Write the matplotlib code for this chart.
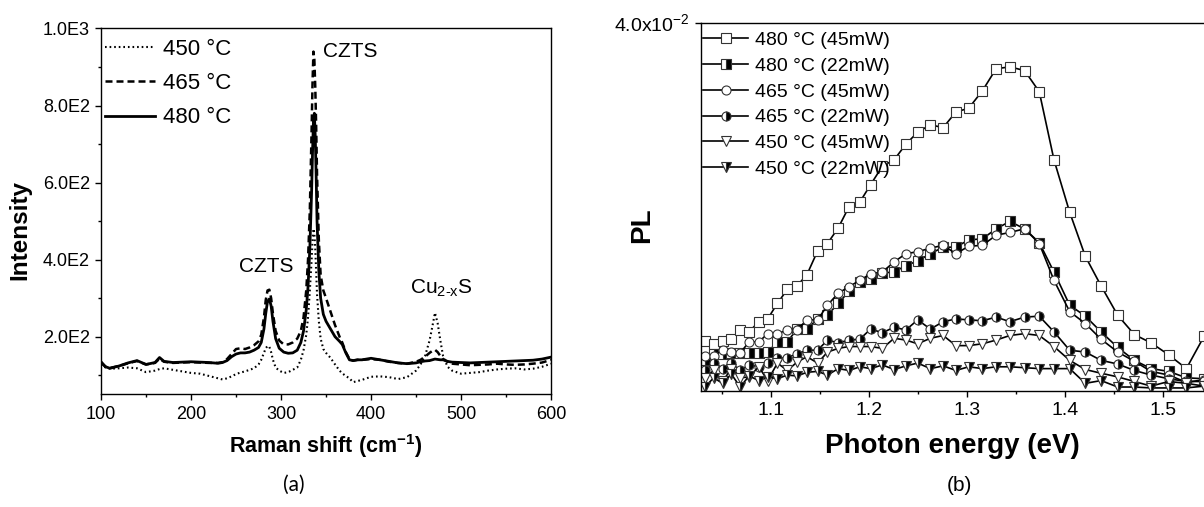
import numpy as np
import matplotlib
matplotlib.use("Agg")
import matplotlib.pyplot as plt
from matplotlib.ticker import MultipleLocator

plt.rcParams['font.family'] = ['Liberation Sans', 'DejaVu Sans']
plt.rcParams['mathtext.fontset'] = 'custom'
plt.rcParams['mathtext.rm'] = 'Liberation Sans'
plt.rcParams['mathtext.bf'] = 'Liberation Sans:bold'

# ---- (a) Raman spectra ----
raman_shift = [100, 105, 110, 120, 130, 140, 150, 160, 165, 170, 180, 190, 200, 210, 220, 230, 235, 240,
               245, 250, 255, 260, 265, 270, 275, 278, 281, 283, 285, 287, 289, 291, 294, 298, 303, 308,
               313, 318, 322, 325, 328, 330, 332, 334, 335, 336, 337, 338, 339, 340, 342, 344, 347, 350,
               355, 360, 365, 368, 372, 376, 380, 385, 390, 400, 410, 420, 430, 440, 450, 455, 460, 465,
               468, 471, 474, 477, 480, 485, 490, 500, 510, 520, 530, 540, 550, 560, 570, 580, 590, 600]
raman_450 = [130, 120, 117, 118, 120, 118, 108, 112, 116, 118, 114, 110, 106, 104, 98, 92, 89, 92,
             97, 103, 107, 110, 114, 118, 128, 140, 158, 170, 176, 174, 160, 140, 120, 112, 106, 108,
             114, 120, 140, 165, 205, 250, 320, 400, 450, 480, 470, 430, 370, 310, 240, 195, 168, 158,
             145, 128, 112, 105, 98, 92, 82, 85, 88, 96, 97, 95, 90, 95, 112, 128, 150, 190,
             225, 262, 235, 190, 150, 122, 112, 104, 106, 108, 112, 115, 117, 118, 115, 117, 122, 130]
raman_465 = [132, 122, 119, 124, 131, 137, 128, 132, 143, 135, 132, 133, 134, 133, 132, 132, 134, 142,
             155, 168, 170, 168, 172, 178, 188, 205, 250, 295, 320, 322, 300, 260, 215, 190, 180, 180,
             185, 195, 215, 250, 320, 400, 530, 740, 860, 940, 920, 850, 750, 620, 450, 360, 320, 300,
             265, 230, 200, 185, 160, 142, 138, 140, 140, 142, 140, 135, 132, 130, 135, 140, 148, 158,
             163, 166, 160, 150, 142, 135, 130, 128, 126, 127, 128, 130, 128, 127, 128, 130, 133, 140]
raman_480 = [135, 122, 118, 124, 132, 138, 128, 133, 146, 136, 133, 134, 135, 134, 133, 131, 133, 138,
             148, 155, 158, 158, 160, 165, 172, 185, 220, 260, 292, 298, 280, 240, 195, 170, 160, 157,
             158, 165, 185, 215, 270, 330, 430, 580, 680, 760, 780, 720, 620, 500, 370, 300, 258, 240,
             220, 200, 188, 180, 158, 140, 138, 140, 140, 144, 140, 136, 132, 130, 132, 135, 137, 138,
             140, 142, 141, 140, 140, 136, 134, 133, 132, 133, 134, 135, 136, 137, 138, 139, 142, 147]
raman_labels = ['450 \u00b0C', '465 \u00b0C', '480 \u00b0C']

# ---- (b) PL spectra (values in units of 1e-2) ----
photon_energy = [1.033, 1.042, 1.051, 1.060, 1.069, 1.078, 1.088, 1.097, 1.107, 1.117, 1.127, 1.137,
                 1.148, 1.158, 1.169, 1.180, 1.191, 1.202, 1.214, 1.226, 1.238, 1.250, 1.263, 1.276,
                 1.289, 1.302, 1.316, 1.330, 1.344, 1.359, 1.374, 1.389, 1.405, 1.421, 1.437, 1.454,
                 1.471, 1.488, 1.506, 1.524, 1.542]
pl_480_45 = [0.54, 0.51, 0.54, 0.56, 0.66, 0.64, 0.75, 0.78, 0.95, 1.10, 1.14, 1.26, 1.52, 1.60, 1.77,
             2.00, 2.05, 2.24, 2.44, 2.51, 2.68, 2.81, 2.89, 2.86, 3.03, 3.07, 3.26, 3.50, 3.52, 3.48,
             3.25, 2.51, 1.94, 1.46, 1.14, 0.82, 0.61, 0.52, 0.39, 0.24, 0.59]
pl_480_22 = [0.33, 0.40, 0.40, 0.41, 0.41, 0.41, 0.41, 0.42, 0.53, 0.53, 0.67, 0.67, 0.78, 0.82, 0.95,
             1.08, 1.18, 1.21, 1.28, 1.29, 1.36, 1.41, 1.49, 1.56, 1.56, 1.64, 1.65, 1.76, 1.84, 1.76,
             1.61, 1.29, 0.93, 0.81, 0.64, 0.47, 0.33, 0.24, 0.21, 0.14, 0.13]
pl_465_45 = [0.38, 0.38, 0.44, 0.42, 0.41, 0.53, 0.53, 0.62, 0.62, 0.66, 0.66, 0.77, 0.77, 0.93, 1.06,
             1.13, 1.20, 1.27, 1.29, 1.40, 1.49, 1.51, 1.55, 1.58, 1.49, 1.57, 1.58, 1.69, 1.72, 1.76,
             1.60, 1.20, 0.86, 0.73, 0.56, 0.42, 0.32, 0.21, 0.17, 0.09, 0.12]
pl_465_22 = [0.22, 0.30, 0.24, 0.30, 0.22, 0.28, 0.26, 0.30, 0.35, 0.36, 0.40, 0.44, 0.44, 0.55, 0.52,
             0.55, 0.56, 0.67, 0.63, 0.69, 0.66, 0.77, 0.67, 0.75, 0.78, 0.77, 0.76, 0.80, 0.75, 0.80,
             0.81, 0.64, 0.44, 0.42, 0.33, 0.29, 0.22, 0.17, 0.13, 0.10, 0.10]
pl_450_45 = [0.14, 0.22, 0.10, 0.24, 0.14, 0.15, 0.26, 0.11, 0.30, 0.22, 0.31, 0.37, 0.30, 0.42, 0.46,
             0.48, 0.48, 0.48, 0.46, 0.57, 0.55, 0.51, 0.57, 0.60, 0.49, 0.49, 0.51, 0.55, 0.60, 0.62,
             0.60, 0.48, 0.33, 0.23, 0.19, 0.15, 0.10, 0.05, 0.10, 0.08, 0.05]
pl_450_22 = [0.04, 0.14, 0.08, 0.18, 0.04, 0.16, 0.11, 0.15, 0.13, 0.17, 0.16, 0.20, 0.21, 0.17, 0.24,
             0.22, 0.26, 0.24, 0.28, 0.23, 0.27, 0.30, 0.24, 0.27, 0.22, 0.26, 0.24, 0.26, 0.26, 0.25,
             0.24, 0.24, 0.24, 0.08, 0.11, 0.04, 0.04, 0.03, 0.03, 0.03, 0.05]
pl_labels = ['480 \u00b0C (45mW)', '480 \u00b0C (22mW)', '465 \u00b0C (45mW)',
             '465 \u00b0C (22mW)', '450 \u00b0C (45mW)', '450 \u00b0C (22mW)']

fig = plt.figure(figsize=(12.04, 5.07), dpi=100)

# ---------- panel (a) ----------
ax1 = fig.add_axes([0.0839, 0.2219, 0.3738, 0.7219])
ax1.plot(raman_shift, raman_450, color='black', lw=1.5, ls=(0, (0.8, 1.4)), label=raman_labels[0])
ax1.plot(raman_shift, raman_465, color='black', lw=1.8, ls=(0, (2.8, 1.6)), label=raman_labels[1])
ax1.plot(raman_shift, raman_480, color='black', lw=2.0, ls='-', label=raman_labels[2])
ax1.set_xlim(100, 600)
ax1.set_ylim(50, 1000)
ax1.xaxis.set_major_locator(MultipleLocator(100))
ax1.xaxis.set_minor_locator(MultipleLocator(50))
ax1.set_yticks([200, 400, 600, 800, 1000])
ax1.set_yticklabels(['2.0E2', '4.0E2', '6.0E2', '8.0E2', '1.0E3'])
ax1.yaxis.set_minor_locator(MultipleLocator(100))
ax1.tick_params(which='both', direction='out', width=1, labelsize=13, top=False, right=False)
ax1.tick_params(which='major', length=4.5)
ax1.tick_params(which='minor', length=2.5)
for s in ax1.spines.values():
    s.set_linewidth(1.0)
ax1.set_xlabel('Raman shift (cm$^{\\mathbf{-1}}$)', fontsize=15.5, fontweight='bold', labelpad=7)
ax1.set_ylabel('Intensity', fontsize=17.5, fontweight='bold')
ax1.yaxis.set_label_coords(-0.155, 0.45)
ax1.text(284, 382, 'CZTS', fontsize=15, ha='center', va='center')
ax1.text(377, 940, 'CZTS', fontsize=15, ha='center', va='center')
ax1.text(478, 325, 'Cu$_{\\text{2-x}}$S', fontsize=15, ha='center', va='center')
ax1.legend(loc='upper left', bbox_to_anchor=(0.009, 0.972), frameon=False, fontsize=16,
           handlelength=2.25, handletextpad=0.36, labelspacing=0.6, borderaxespad=0, borderpad=0)

# ---------- panel (b) ----------
ax2 = fig.add_axes([0.5822, 0.2294, 0.4178, 0.7258])
pl_series = [pl_480_45, pl_480_22, pl_465_45, pl_465_22, pl_450_45, pl_450_22]
markers = ['s', 's', 'o', 'o', 'v', 'v']
fills = ['full', 'right', 'full', 'right', 'full', 'right']
faces = ['white', 'black', 'white', 'black', 'white', 'black']
for vals, lab, m, fs, fc in zip(pl_series, pl_labels, markers, fills, faces):
    ax2.plot(photon_energy, np.array(vals) * 1e-2, color='black', lw=1.2, marker=m, ms=6.5,
             fillstyle=fs, markerfacecolor=fc, markerfacecoloralt='white',
             markeredgecolor='#333333', markeredgewidth=0.8, label=lab)
ax2.set_xlim(1.029, 1.542)
ax2.set_ylim(0, 0.04)
ax2.set_xticks([1.1, 1.2, 1.3, 1.4, 1.5])
ax2.xaxis.set_minor_locator(MultipleLocator(0.05))
ax2.set_yticks([0.04])
ax2.set_yticklabels(['4.0x10$^{\\mathregular{-2}}$'])
ax2.spines['right'].set_visible(False)
for s in ax2.spines.values():
    s.set_linewidth(1.0)
ax2.tick_params(which='both', direction='out', width=1, labelsize=14, top=False, right=False)
ax2.tick_params(which='major', length=4.5)
ax2.tick_params(which='minor', length=2.5)
ax2.set_xlabel('Photon energy (eV)', fontsize=20, fontweight='bold', labelpad=10)
ax2.set_ylabel('PL', fontsize=20, fontweight='bold')
ax2.yaxis.set_label_coords(-0.0915, 0.45)
ax2.legend(loc='upper left', bbox_to_anchor=(0.004, 0.976), frameon=False, fontsize=14,
           handlelength=2.32, handletextpad=0.36, labelspacing=0.42, borderaxespad=0, borderpad=0,
           numpoints=1)

fig.text(0.244, 0.043, '(a)', fontsize=15, family=['Lato', 'DejaVu Sans'], ha='center', va='center')
fig.text(0.797, 0.043, '(b)', fontsize=15, ha='center', va='center')

fig.savefig('out.png', dpi=100, facecolor='white')
